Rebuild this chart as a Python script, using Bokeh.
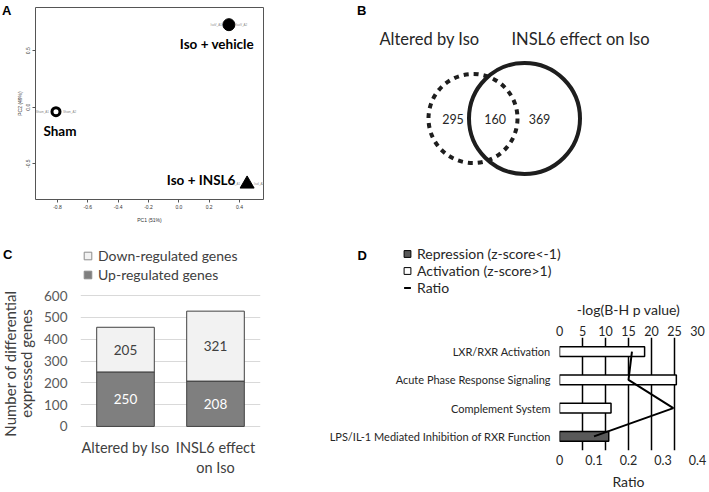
import math
from bokeh.plotting import figure
from bokeh.models import (ColumnDataSource, Range1d, FactorRange, FixedTicker,
                          NumeralTickFormatter, Label, Legend, LegendItem, LinearAxis)
from bokeh.layouts import row, column
from bokeh.embed import file_html
from bokeh.resources import INLINE
from bokeh.core.properties import value

FONT = "Lato"
HEAD_FONT = "Liberation Sans"

# ---------------- data ----------------
# A: PCA
pca_groups = ["Sham", "Iso + vehicle", "Iso + INSL6"]
pca_pc1 = [-0.81, 0.33, 0.45]
pca_pc2 = [-0.04, 0.73, -0.68]
pca_marker = ["circle", "circle", "triangle"]
pca_filled = [False, True, True]
pca_samples_left = ["Sham_A1", "IsoV_A1", "IsoI_A1"]
pca_samples_right = ["Sham_A2", "IsoV_A2", "IsoI_A2"]
pca_x_ticks = [-0.8, -0.6, -0.4, -0.2, 0.0, 0.2, 0.4]
pca_y_ticks = [-0.5, 0.0, 0.5]
pca_x_title = "PC1 (51%)"
pca_y_title = "PC2 (49%)"

# B: Venn
venn_titles = ["Altered by Iso", "INSL6 effect on Iso"]
venn_counts = [295, 160, 369]  # Iso only, both, INSL6 only

# C: stacked bars
deg_groups = ["Altered by Iso", "INSL6 effect\non Iso"]
deg_up = [250, 208]
deg_down = [205, 321]
deg_ticks = [0, 100, 200, 300, 400, 500, 600]
deg_y_title = ["Number of differential", "expressed genes"]
deg_legend = ["Down-regulated genes", "Up-regulated genes"]

# D: pathways
path_names = ["LXR/RXR Activation", "Acute Phase Response Signaling",
              "Complement System", "LPS/IL-1 Mediated Inhibition of RXR Function"]
path_logp = [18.5, 25.4, 11.2, 10.7]
path_ratio = [0.21, 0.20, 0.33, 0.10]
path_state = ["Activation", "Activation", "Activation", "Repression"]
logp_ticks = [0, 5, 10, 15, 20, 25, 30]
ratio_ticks = [0, 0.1, 0.2, 0.3, 0.4]
logp_title = "-log(B-H p value)"
ratio_title = "Ratio"
path_legend = ["Repression (z-score<-1)", "Activation (z-score>1)", "Ratio"]


def data_fig(w, h, l, r, t, b, **kw):
    """Figure whose frame spans local pixels l..r (x) and t..b (y)."""
    return figure(width=w, height=h, output_backend="svg", toolbar_location=None, title=None,
                  min_border_left=l, min_border_right=w - r, min_border_top=t,
                  min_border_bottom=h - b, frame_align=False, **kw)


def pix_fig(w, h):
    """Figure whose frame is the whole canvas, in pixel units (y downward)."""
    f = figure(width=w, height=h, x_range=Range1d(0, w), y_range=Range1d(h, 0),
               output_backend="svg", toolbar_location=None, title=None,
               min_border_left=0, min_border_right=0, min_border_top=0, min_border_bottom=0,
               x_axis_location=None, y_axis_location=None, frame_align=False)
    f.grid.visible = False
    f.outline_line_color = None
    return f


def lab(fig, x, y, text, size, color="#262626", font=FONT, style="normal", align="center",
        baseline="middle", angle=0.0):
    fig.add_layout(Label(x=x, y=y, text=text, text_font=font, text_font_size=f"{size}px",
                         text_color=color, text_font_style=style, text_align=align,
                         text_baseline=baseline, angle=angle))


def panel_letter(fig, x, y, letter):
    lab(fig, x, y, letter, 13, color="black", font=HEAD_FONT, style="bold", align="left")


def legend_key(fig, **kw):
    # key glyph for the legend, its single point lies outside the visible frame
    return fig.scatter(x=[-50], y=[-50], **kw)


# ================= Panel A =================
a_left = pix_fig(12, 240)
panel_letter(a_left, 1.5, 9.5, "A")

WA, HA = 314, 240
fa = data_fig(WA, HA, 23, 251, 7, 199,
              x_range=Range1d(-0.945, 0.558), y_range=Range1d(-0.817, 0.882))
fa.grid.visible = False
fa.outline_line_color = "#555555"
fa.outline_line_width = 1
for ax, ticks in ((fa.xaxis[0], pca_x_ticks), (fa.yaxis[0], pca_y_ticks)):
    ax.ticker = FixedTicker(ticks=ticks)
    ax.formatter = NumeralTickFormatter(format="0.0")
    ax.axis_line_color = None
    ax.major_tick_out = 3
    ax.major_tick_in = 0
    ax.minor_tick_out = 0
    ax.minor_tick_in = 0
    ax.major_tick_line_color = "#555555"
    ax.major_label_text_font = HEAD_FONT
    ax.major_label_text_font_size = "5px"
    ax.major_label_text_color = "#333333"
    ax.major_label_standoff = 2
    ax.axis_label_text_font = HEAD_FONT
    ax.axis_label_text_font_size = "5px"
    ax.axis_label_text_font_style = "normal"
    ax.axis_label_text_color = "#333333"
fa.yaxis[0].major_label_orientation = "vertical"
fa.xaxis[0].axis_label = pca_x_title
fa.xaxis[0].axis_label_standoff = 5
fa.yaxis[0].axis_label = pca_y_title
fa.yaxis[0].axis_label_standoff = 1

src_a = ColumnDataSource(dict(
    x=pca_pc1, y=pca_pc2, marker=pca_marker,
    fill=["black" if f else "white" for f in pca_filled],
    size=[8, 12, 14], lw=[3, 1, 1], name=pca_groups,
    dx=[4, -12, -46], dy=[19, 19, -4],
    left=pca_samples_left, right=pca_samples_right))
fa.text(x="x", y="y", text="left", x_offset=-7, text_align="right", text_baseline="middle",
        text_font=value(HEAD_FONT), text_font_size=value("3px"), text_color="#888888",
        source=src_a)
fa.text(x="x", y="y", text="right", x_offset=7, text_align="left", text_baseline="middle",
        text_font=value(HEAD_FONT), text_font_size=value("3px"), text_color="#888888",
        source=src_a)
fa.scatter(x="x", y="y", marker="marker", size="size", fill_color="fill", line_color="black",
           line_width="lw", source=src_a)
fa.text(x="x", y="y", text="name", x_offset="dx", y_offset="dy", text_font=value(FONT),
        text_font_style="bold", text_font_size=value("13.5px"), text_align="center",
        text_baseline="middle", text_color="black", source=src_a)

# ================= Panel B =================
fb = pix_fig(383, 240)
VENN_CX = [146.5, 198.0]
VENN_CY = 118.0
VENN_R = [44.5, 55.5]
COUNT_X = [126.5, 168.7, 213.0]
fb.circle(x=[VENN_CX[1]], y=[VENN_CY], radius=[VENN_R[1]], fill_color=None,
          line_color="#1e1e1e", line_width=4)
fb.circle(x=[VENN_CX[0]], y=[VENN_CY], radius=[VENN_R[0]], fill_color=None,
          line_color="#1e1e1e", line_width=4, line_dash="5 5")
fb.text(x=COUNT_X, y=[VENN_CY] * 3, text=[str(v) for v in venn_counts],
        text_font=value(FONT), text_font_size=value("12.5px"), text_align="center",
        text_baseline="middle", text_color="#262626")
lab(fb, 103, 38, venn_titles[0], 16.5)
lab(fb, 254, 38, venn_titles[1], 16.5)
panel_letter(fb, 30.5, 10, "B")

# ================= Panel C =================
UP_C, DOWN_C = "#7f7f7f", "#f2f2f2"
c_top = pix_fig(326, 46)
panel_letter(c_top, 2.5, 14, "C")
key_down = legend_key(c_top, marker="square", fill_color=DOWN_C, line_color="#8c8c8c")
key_up = legend_key(c_top, marker="square", fill_color=UP_C, line_color="#8c8c8c")
leg_c = Legend(items=[LegendItem(label=deg_legend[0], renderers=[key_down]),
                      LegendItem(label=deg_legend[1], renderers=[key_up])],
               location=(78, 2), glyph_width=19, glyph_height=19, label_height=19,
               spacing=0, padding=0, margin=0, label_standoff=1,
               border_line_color=None, background_fill_alpha=0,
               label_text_font=FONT, label_text_font_size="14px", label_text_color="#404040")
c_top.add_layout(leg_c)

c_left = pix_fig(36, 206)
lab(c_left, 9, 77, deg_y_title[0], 15, color="#404040", angle=math.pi / 2)
lab(c_left, 25, 77, deg_y_title[1], 15, color="#404040", angle=math.pi / 2)

WC, HC = 290, 206
fc = data_fig(WC, HC, 44, 224, 7, 141, x_range=FactorRange(*deg_groups),
              y_range=Range1d(-5, 610))
src_c = ColumnDataSource(dict(group=deg_groups, up=deg_up, down=deg_down,
                              up_mid=[u / 2 for u in deg_up],
                              down_mid=[u + d / 2 for u, d in zip(deg_up, deg_down)],
                              up_txt=[str(u) for u in deg_up],
                              down_txt=[str(d) for d in deg_down]))
fc.vbar_stack(["up", "down"], x="group", width=0.64, fill_color=[UP_C, DOWN_C],
              line_color="#404040", line_width=1, source=src_c)
fc.text(x="group", y="up_mid", text="up_txt", text_font=value(FONT),
        text_font_size=value("13.5px"), text_align="center", text_baseline="middle",
        text_color="white", source=src_c)
fc.text(x="group", y="down_mid", text="down_txt", text_font=value(FONT),
        text_font_size=value("13.5px"), text_align="center", text_baseline="middle",
        text_color="#404040", source=src_c)
fc.outline_line_color = None
fc.xgrid.visible = False
fc.ygrid.ticker = FixedTicker(ticks=deg_ticks)
fc.ygrid.grid_line_color = "#d9d9d9"
fc.ygrid.level = "underlay"
ya = fc.yaxis[0]
ya.ticker = FixedTicker(ticks=deg_ticks)
xa = fc.xaxis[0]
for ax in (xa, ya):
    ax.axis_line_color = None
    ax.major_tick_line_color = None
    ax.minor_tick_line_color = None
    ax.major_tick_out = 0
    ax.major_tick_in = 0
    ax.major_label_text_font = FONT
ya.major_label_text_font_size = "13.5px"
ya.major_label_text_color = "#595959"
ya.major_label_standoff = 13
xa.major_label_text_font_size = "14.5px"
xa.major_label_text_color = "#404040"
xa.major_label_standoff = 11

# ================= Panel D =================
REP_C = "#595959"
d_top = pix_fig(383, 57)
panel_letter(d_top, 31, 14.5, "D")
key_rep = legend_key(d_top, marker="square", fill_color=REP_C, line_color="black")
key_act = legend_key(d_top, marker="square", fill_color="white", line_color="black")
key_rat = legend_key(d_top, marker="dash", line_color="black", line_width=2)
leg_d = Legend(items=[LegendItem(label=path_legend[0], renderers=[key_rep]),
                      LegendItem(label=path_legend[1], renderers=[key_act]),
                      LegendItem(label=path_legend[2], renderers=[key_rat])],
               location=(71, 1.5), glyph_width=20, glyph_height=17, label_height=17,
               spacing=0, padding=0, margin=0, label_standoff=0,
               border_line_color=None, background_fill_alpha=0,
               label_text_font=FONT, label_text_font_size="14px", label_text_color="#262626")
d_top.add_layout(leg_d)

WD, HD = 383, 195
fd = data_fig(WD, HD, 233, 371, 40, 153, x_range=Range1d(0, 30),
              y_range=FactorRange(*reversed(path_names)), x_axis_location="above")
fd.extra_x_ranges = {"ratio": Range1d(0, 0.4)}
fd.outline_line_color = None
fd.ygrid.visible = False
fd.xgrid.ticker = FixedTicker(ticks=logp_ticks)
fd.xgrid.grid_line_color = "black"
fd.xgrid.grid_line_width = 1.5

act = [i for i, s in enumerate(path_state) if s == "Activation"]
rep = [i for i, s in enumerate(path_state) if s == "Repression"]
src_act = ColumnDataSource(dict(name=[path_names[i] for i in act],
                                v=[path_logp[i] for i in act]))
src_rep = ColumnDataSource(dict(name=[path_names[i] for i in rep],
                                v=[path_logp[i] for i in rep]))
fd.hbar(y="name", left=0, right="v", height=0.34, fill_color="white", line_color="black",
        line_width=1.5, source=src_act)
fd.hbar(y="name", left=0, right="v", height=0.34, fill_color=REP_C, line_color="black",
        line_width=1.5, source=src_rep)
fd.line(x=path_ratio, y=path_names, x_range_name="ratio", line_color="black", line_width=2)

top_ax = fd.xaxis[0]
top_ax.ticker = FixedTicker(ticks=logp_ticks)
top_ax.axis_label = logp_title
bot_ax = LinearAxis(x_range_name="ratio", ticker=FixedTicker(ticks=ratio_ticks))
bot_ax.axis_label = ratio_title
fd.add_layout(bot_ax, "below")
left_ax = fd.yaxis[0]
for ax in (top_ax, bot_ax, left_ax):
    ax.axis_line_color = None
    ax.major_tick_line_color = None
    ax.minor_tick_line_color = None
    ax.major_tick_out = 0
    ax.major_tick_in = 0
    ax.major_label_text_font = FONT
    ax.major_label_text_color = "#262626"
for ax in (top_ax, bot_ax):
    ax.major_label_text_font_size = "12.5px"
    ax.axis_label_text_font = FONT
    ax.axis_label_text_font_size = "14px"
    ax.axis_label_text_font_style = "normal"
    ax.axis_label_text_color = "#262626"
top_ax.major_label_standoff = 2
top_ax.axis_label_standoff = 5
bot_ax.major_label_standoff = 4
bot_ax.axis_label_standoff = 5
left_ax.major_label_text_font_size = "11px"
left_ax.major_label_standoff = 9

layout = column(row(a_left, fa, fb),
                row(column(c_top, row(c_left, fc)), column(d_top, fd)))
open("out.html", "w").write(file_html(layout, INLINE))
